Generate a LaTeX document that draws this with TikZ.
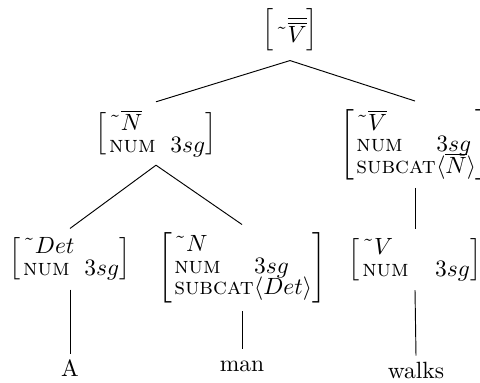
\documentclass[tikz,border=0pt]{standalone}
\usepackage{tikz}
\newcommand{\feat}[2][34pt]{\makebox[#1][l]{\textsc{#2}}}
\newcommand{\cat}[1]{\symbol{"02DC}$#1$}
\newcommand{\avm}[1]{$\left[\vcenter{\hbox{\rule{0pt}{19pt}}}%
  \vcenter{\baselineskip=9.2pt \lineskiplimit=-\maxdimen
  \halign{\kern1pt##\hfil\cr#1\crcr}}\right]$}
\tikzset{
  avm node/.style={inner sep=3.3pt},
  word node/.style={anchor=base, text height=6pt, inner sep=3.3pt},
  tree edge/.style={line width=0.4pt},
}

\begin{document}
\begin{tikzpicture}[x=0.4255pt, y=-0.4255pt]
  \useasboundingbox (0,0) rectangle (480,383);
  % feature structures
  \node[avm node] (vbarbar) at (290,30)
    {\avm{\cat{\overline{\overline{V}}}}};
  \node[avm node] (nbar) at (156,133.5)
    {\avm{\cat{\overline{N}}\cr \feat[26pt]{num}$3sg$}};
  \node[avm node] (vbar) at (415,144.5)
    {\avm{\cat{\overline{V}}\cr \feat{num}$3sg$\cr \feat{subcat}$\langle\overline{N}\rangle$}};
  \node[avm node] (det) at (70,259)
    {\avm{\cat{Det}\cr \feat[26pt]{num}$3sg$}};
  \node[avm node] (n) at (242,268)
    {\avm{\cat{N}\cr \feat{num}$3sg$\cr \feat{subcat}$\langle Det\rangle$}};
  \node[avm node] (v) at (415,259.5)
    {\avm{\cat{V}\cr \feat[31pt]{num}$3sg$}};
  % words
  \node[word node] (a) at (70,376) {A};
  \node[word node] (man) at (242,371) {man};
  \node[word node] (walks) at (416,378) {walks};
  % branches
  \draw[tree edge] (vbarbar.south) -- (nbar.north);
  \draw[tree edge] (vbarbar.south) -- (vbar.north);
  \draw[tree edge] (nbar.south) -- (det.north);
  \draw[tree edge] (nbar.south) -- (n.north);
  \draw[tree edge] (vbar.south) -- (v.north);
  \draw[tree edge] (det.south) -- (a.north);
  \draw[tree edge] (n.south) -- (man.north);
  \draw[tree edge] (v.south) -- (walks.north);
\end{tikzpicture}
\end{document}
